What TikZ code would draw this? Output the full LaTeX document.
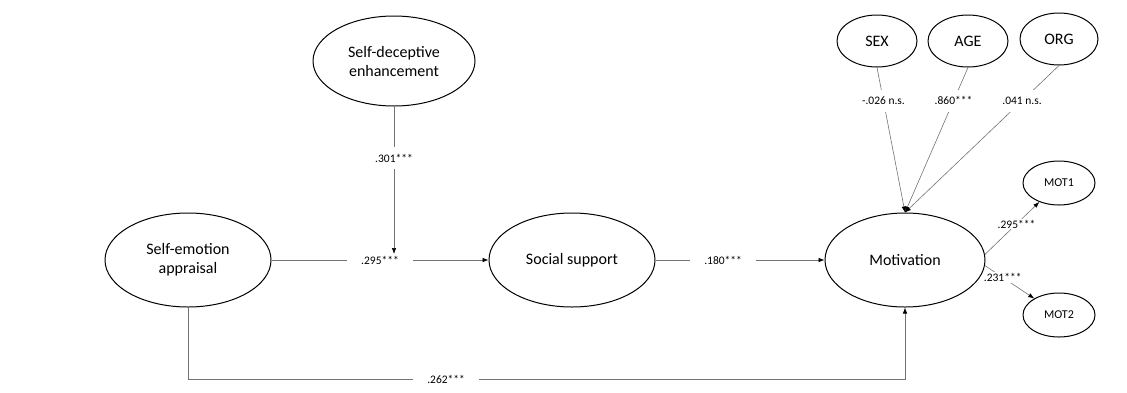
\documentclass[tikz,border=0pt]{standalone}
\usepackage{fontspec}
\setmainfont{Carlito}
\usetikzlibrary{shapes.geometric,arrows.meta}

\begin{document}
\begin{tikzpicture}[x=1pt,y=-1pt,semithick,
    latent/.style={ellipse,draw,line width=1pt,inner sep=0pt,align=center,
      font=\fontsize{16}{19}\selectfont},
    indic/.style={latent,font=\fontsize{12}{14}\selectfont},
    link/.style={draw=black!55,line width=0.6pt,
      -{Latex[length=6pt,width=4.5pt,color=black]}},
    coef/.style={fill=white,inner xsep=14pt,inner ysep=7pt,
      font=\fontsize{11.5}{13}\selectfont},
    coefs/.style={coef,inner sep=1pt}]
    \useasboundingbox (0,0) rectangle (1127,392);

    \node[latent,minimum width=166,minimum height=94] (sea) at (188,260) {Self-emotion\\appraisal};
    \node[latent,minimum width=162,minimum height=90] (sde) at (394,61)  {Self-deceptive\\enhancement};
    \node[latent,minimum width=166,minimum height=94] (ss)  at (572,260) {Social support};
    \node[latent,minimum width=160,minimum height=94] (mot) at (905,260) {Motivation};

    \node[latent,minimum width=80,minimum height=52] (sex) at (877,41)  {SEX};
    \node[latent,minimum width=80,minimum height=52] (age) at (968,41)  {AGE};
    \node[latent,minimum width=78,minimum height=52] (org) at (1059,39) {ORG};

    \node[indic,minimum width=72,minimum height=44] (mot1) at (1059,183) {MOT1};
    \node[indic,minimum width=72,minimum height=44] (mot2) at (1059,315) {MOT2};

    \coordinate (mod) at (394,254);
    \coordinate (low) at (188,379);

    \draw[link] (sea) -- node[coef,inner ysep=2pt] {.295***} (ss);
    \draw[link] (sde) -- node[coef,pos=0.35] {.301***} (mod);
    \draw[link] (ss) -- node[coef,pos=0.4] {.180***} (mot);
    \draw[link] (sea.south) -- (low) -| node[coef,pos=0.18] {.262***} (mot.south);

    \draw[link] (sex.south) -- node[coef,pos=0.23] {-.026 n.s.} (mot.north);
    \draw[link] (age.south) -- node[coef,pos=0.23] {.860***} (mot.north);
    \draw[link] (org.south) -- node[coef,pos=0.24] {.041 n.s.} (mot.north);

    \draw[link] (mot.4) -- node[coefs,pos=0.58] {.295***} (mot1);
    \draw[link] (mot.-4) -- node[coefs,pos=0.36] {.231***} (mot2);
  \end{tikzpicture}
\end{document}
